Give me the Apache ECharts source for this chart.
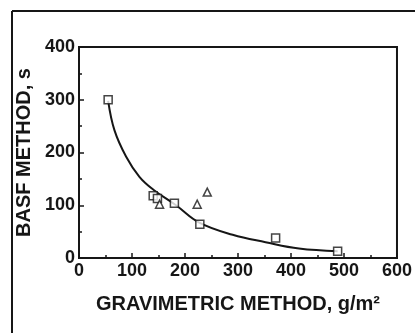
<!DOCTYPE html>
<html>
<head>
<meta charset="utf-8">
<script src="https://cdn.jsdelivr.net/npm/echarts@6/dist/echarts.min.js"></script>
<style>
  html, body { margin: 0; padding: 0; background: #fff; }
  #main { width: 415px; height: 333px; }
</style>
</head>
<body>
<div id="main"></div>
<script>
// data
var squarePoints = [[55, 300], [140, 118], [148, 113], [180, 104], [228, 64], [371, 38], [488, 13]];
var trianglePoints = [[152, 102], [223, 102], [242, 125]];
var curveX = [55, 67, 89, 114, 141, 183, 227, 290, 352, 415, 488];
var curveY = [298, 242, 192, 154, 129, 100, 67, 44, 30, 18, 13];
var xTicks = [0, 100, 200, 300, 400, 500, 600];
var yTicks = [0, 100, 200, 300, 400];

var ink = '#161616';
var fontFam = '"Liberation Sans", Arial, sans-serif';

var curve = curveX.map(function (x, i) { return [x, curveY[i]]; });

var chart = echarts.init(document.getElementById('main'));
var option = {
  backgroundColor: '#fff',
  animation: false,
  grid: {
    left: 79, top: 47, width: 320, height: 211,
    show: true, borderColor: ink, borderWidth: 2, backgroundColor: 'transparent'
  },
  graphic: [
    { type: 'line', shape: { x1: 12, y1: 11, x2: 415, y2: 11 }, style: { stroke: ink, lineWidth: 2 } },
    { type: 'line', shape: { x1: 12, y1: 11, x2: 12, y2: 333 }, style: { stroke: ink, lineWidth: 2 } }
  ],
  xAxis: {
    type: 'value', min: xTicks[0], max: xTicks[xTicks.length - 1], interval: 100,
    name: 'GRAVIMETRIC METHOD, g/m²', nameLocation: 'middle', nameGap: 36,
    nameTextStyle: { color: ink, fontSize: 20, fontWeight: 'bold', fontFamily: fontFam },
    axisLine: { lineStyle: { color: ink, width: 2 } },
    axisTick: { inside: true, length: 5, lineStyle: { color: ink, width: 1.5 } },
    minorTick: { show: true, splitNumber: 2, length: 3, lineStyle: { color: ink, width: 1.5 } },
    axisLabel: { color: ink, fontSize: 18, fontWeight: 'bold', fontFamily: fontFam, margin: 4 },
    splitLine: { show: false }
  },
  yAxis: {
    type: 'value', min: yTicks[0], max: yTicks[yTicks.length - 1], interval: 100,
    name: 'BASF METHOD, s', nameLocation: 'middle', nameGap: 41, nameRotate: 90,
    nameTextStyle: { color: ink, fontSize: 20, fontWeight: 'bold', fontFamily: fontFam },
    axisLine: { show: true, lineStyle: { color: ink, width: 2 } },
    axisTick: { inside: true, length: 5, lineStyle: { color: ink, width: 1.5 } },
    minorTick: { show: true, splitNumber: 2, length: 3, lineStyle: { color: ink, width: 1.5 } },
    axisLabel: { color: ink, fontSize: 18, fontWeight: 'bold', fontFamily: fontFam, margin: 4 },
    splitLine: { show: false }
  },
  series: [
    {
      type: 'line', data: curve, smooth: 0.4, showSymbol: false, z: 2,
      lineStyle: { color: ink, width: 2 }
    },
    {
      type: 'scatter', data: squarePoints, symbol: 'rect', symbolSize: 8, z: 3,
      itemStyle: { color: '#fff', borderColor: ink, borderWidth: 1.5 }
    },
    {
      type: 'scatter', data: trianglePoints, symbol: 'triangle', symbolSize: 8, z: 3,
      itemStyle: { color: '#fff', borderColor: ink, borderWidth: 1.5 }
    }
  ]
};
chart.setOption(option);
</script>
</body>
</html>
